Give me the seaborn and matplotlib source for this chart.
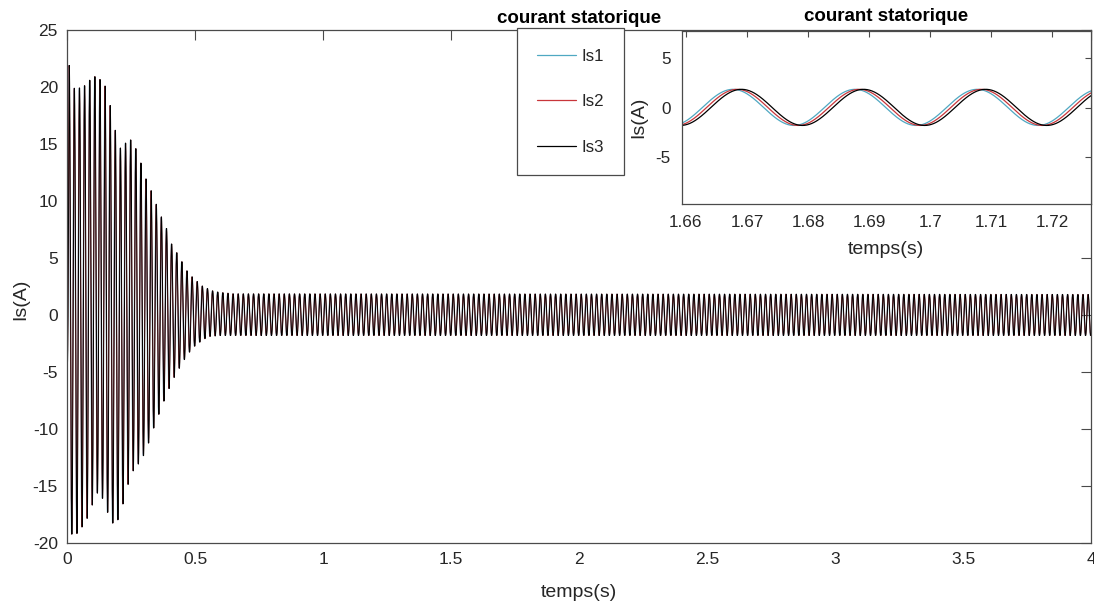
import numpy as np
import pandas as pd
import matplotlib
matplotlib.use("Agg")
import matplotlib.pyplot as plt
from matplotlib.lines import Line2D
import seaborn as sns

# Envelope of the start-up stator current (upper / lower peaks per cycle)
env_time = [0.000, 0.008, 0.030, 0.050, 0.070, 0.090, 0.110, 0.130, 0.150,
            0.170, 0.190, 0.210, 0.230, 0.250, 0.270, 0.290, 0.310, 0.330,
            0.350, 0.370, 0.390, 0.410, 0.430, 0.450, 0.470, 0.490, 0.510,
            0.530, 0.550, 0.570, 0.590, 0.650, 4.000]
env_upper = [3.0, 21.9, 19.7, 19.9, 20.1, 20.6, 20.9, 20.6, 20.0,
             18.2, 16.0, 14.5, 15.1, 15.35, 14.5, 13.2, 11.8, 10.8,
             9.6, 8.5, 7.5, 6.1, 5.4, 4.6, 3.8, 3.3, 2.9,
             2.5, 2.3, 2.1, 2.0, 1.85, 1.8]
env_lower = [-4.2, -19.1, -19.3, -18.9, -18.1, -17.4, -15.6, -15.6, -16.7,
             -18.1, -18.4, -17.3, -15.5, -13.9, -13.3, -12.7, -11.8, -10.4,
             -9.2, -8.0, -6.9, -5.8, -5.0, -4.2, -3.5, -2.9, -2.5,
             -2.2, -1.9, -1.85, -1.8, -1.8, -1.8]

supply_freq = 50.0          # Hz
ref_delay = 0.0034          # s, Is2 crosses zero upward here
phase_names = ["Is1", "Is2", "Is3"]
phase_shift = [-0.0007, 0.0, 0.0007]   # s, relative to Is2
phase_colors = ["#4fa8c2", "#c8353a", "#000000"]

main_xticks = [0, 0.5, 1, 1.5, 2, 2.5, 3, 3.5, 4]
main_xlabels = ["0", "0.5", "1", "1.5", "2", "2.5", "3", "3.5", "4"]
main_yticks = [-20, -15, -10, -5, 0, 5, 10, 15, 20, 25]
zoom_xticks = [1.66, 1.67, 1.68, 1.69, 1.70, 1.71, 1.72]
zoom_xlabels = ["1.66", "1.67", "1.68", "1.69", "1.7", "1.71", "1.72"]
zoom_yticks = [-5, 0, 5]

# Build the three phase currents
t = np.arange(0.0, 4.0 + 1e-9, 1e-4)
frames = []
for name, shift in zip(phase_names, phase_shift):
    ts = t - shift
    up = np.interp(ts, env_time, env_upper)
    lo = np.interp(ts, env_time, env_lower)
    cur = (up + lo) / 2 + (up - lo) / 2 * np.sin(2 * np.pi * supply_freq * (ts - ref_delay))
    frames.append(pd.DataFrame({"temps": t, "courant": cur, "phase": name}))
df = pd.concat(frames, ignore_index=True)
palette = dict(zip(phase_names, phase_colors))

sns.set_style("white")
plt.rcParams["font.family"] = ["Liberation Sans", "DejaVu Sans"]
text_col = "#262626"
edge_col = "#4a4a4a"

W, H = 1094, 601
fig = plt.figure(figsize=(W / 100, H / 100), dpi=100)
fig.patch.set_facecolor("white")


def frac(x0, y0, x1, y1):
    return [x0 / W, 1 - y1 / H, (x1 - x0) / W, (y1 - y0) / H]


def style_axes(ax, ticklen, fs, pad):
    for s in ax.spines.values():
        s.set_color(edge_col)
        s.set_linewidth(0.9)
    ax.tick_params(direction="in", length=ticklen, width=0.8, color=edge_col,
                   top=True, right=True, labelsize=fs, labelcolor=text_col, pad=pad)


# Main axes
ax = fig.add_axes(frac(67, 29.6, 1091, 543.3))
sns.lineplot(data=df, x="temps", y="courant", hue="phase", palette=palette,
             estimator=None, sort=False, legend=False, linewidth=0.7, ax=ax)
ax.set_xlim(0, 4)
ax.set_ylim(-20, 25)
ax.set_xticks(main_xticks)
ax.set_xticklabels(main_xlabels)
ax.set_yticks(main_yticks)
ax.set_yticklabels([str(v) for v in main_yticks])
style_axes(ax, 7, 12.5, 6.5)
ax.set_xlabel("temps(s)", fontsize=14, color=text_col, labelpad=12)
ax.set_ylabel("Is(A)", fontsize=14, color=text_col)
ax.yaxis.set_label_coords(-0.037, 0.474)
ax.set_title("courant statorique", fontsize=13.5, fontweight="bold",
             color="black", pad=5)

# Zoomed inset
axz = fig.add_axes(frac(681.7, 31, 1090.7, 204))
axz.set_facecolor("white")
sub = df[(df["temps"] >= 1.655) & (df["temps"] <= 1.73)]
sns.lineplot(data=sub, x="temps", y="courant", hue="phase", palette=palette,
             estimator=None, sort=False, legend=False, linewidth=0.9, ax=axz)
axz.set_xlim(1.6593, 1.7263)
axz.set_ylim(-9.7, 7.7)
axz.set_xticks(zoom_xticks)
axz.set_xticklabels(zoom_xlabels)
axz.set_yticks(zoom_yticks)
axz.set_yticklabels([str(v) for v in zoom_yticks])
style_axes(axz, 4, 12.3, 8)
axz.set_xlabel("temps(s)", fontsize=14, color=text_col, labelpad=8)
axz.set_ylabel("Is(A)", fontsize=14, color=text_col, labelpad=6)
axz.set_title("courant statorique", fontsize=13.5, fontweight="bold",
              color="black", pad=7)

# Legend box
handles = [Line2D([], [], color=c, lw=0.9) for c in phase_colors]
leg = fig.legend(handles, phase_names, loc="upper left",
                 bbox_to_anchor=(517 / W, 1 - 28.5 / H), bbox_transform=fig.transFigure,
                 fontsize=12.2, frameon=True, fancybox=False, framealpha=1,
                 edgecolor=edge_col, borderpad=1.2, labelspacing=1.8,
                 handlelength=2.3, handletextpad=0.3, borderaxespad=0)
leg.get_frame().set_linewidth(0.9)
for txt in leg.get_texts():
    txt.set_color(text_col)

fig.savefig("out.png", dpi=100, facecolor="white")
